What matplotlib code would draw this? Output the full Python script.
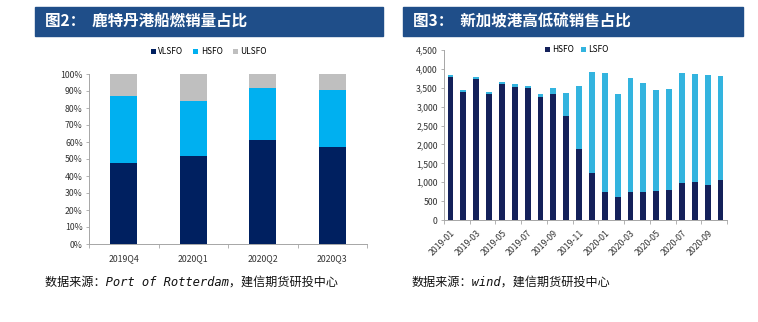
import numpy as np
import matplotlib.pyplot as plt
from matplotlib.patches import Rectangle

plt.rcParams['font.family'] = ['Noto Sans CJK SC', 'DejaVu Sans']

# left chart: Rotterdam bunker sales share (%)
quarters = ['2019Q4', '2020Q1', '2020Q2', '2020Q3']
vlsfo = [47.8, 51.5, 61.0, 57.3]
hsfo_q = [39.5, 32.6, 31.0, 33.5]
ulsfo = [12.7, 15.9, 8.0, 9.2]

# right chart: Singapore sales (thousand tonnes)
months = ['2019-01', '2019-02', '2019-03', '2019-04', '2019-05', '2019-06',
          '2019-07', '2019-08', '2019-09', '2019-10', '2019-11', '2019-12',
          '2020-01', '2020-02', '2020-03', '2020-04', '2020-05', '2020-06',
          '2020-07', '2020-08', '2020-09', '2020-10']
hsfo_m = [3790, 3397, 3724, 3326, 3591, 3529, 3503, 3247, 3326, 2762, 1888,
          1253, 750, 600, 732, 750, 776, 794, 970, 1015, 918, 1059]
lsfo_m = [48, 44, 52, 54, 53, 80, 53, 88, 177, 591, 1659, 2656, 3132, 2735,
          3018, 2885, 2665, 2665, 2912, 2858, 2920, 2753]

W, H = 758, 322
fig = plt.figure(figsize=(W / 100, H / 100), dpi=100)
fig.patch.set_facecolor('white')

title_bg = '#1F4E89'
src_font = ['DejaVu Sans Mono', 'Noto Sans CJK SC']
tick_fs = 6.3


def px_axes(x0, y0, x1, y1):
    return fig.add_axes([x0 / W, 1 - y1 / H, (x1 - x0) / W, (y1 - y0) / H])


def title_bar(x0, x1, text):
    fig.patches.append(Rectangle((x0 / W, 1 - 36 / H), (x1 - x0) / W, 29 / H,
                                 transform=fig.transFigure, color=title_bg, zorder=0))
    fig.text((x0 + 10) / W, 1 - 21.5 / H, text, color='white', fontsize=11.2,
             fontweight='bold', va='center', ha='left')


def style_axes(ax):
    for s in ['top', 'right']:
        ax.spines[s].set_visible(False)
    for s in ['left', 'bottom']:
        ax.spines[s].set_color('#A6A6A6')
        ax.spines[s].set_linewidth(0.7)
    ax.tick_params(axis='y', labelsize=tick_fs, length=2.5, width=0.6,
                   color='#A6A6A6', pad=2, labelcolor='#333333')


# ---- left chart ----
title_bar(35, 383, '图2：  鹿特丹港船燃销量占比')
ax1 = px_axes(89, 74, 367, 244)
x = np.arange(len(quarters))
b1 = ax1.bar(x, vlsfo, width=0.39, color='#002060', label='VLSFO')
b2 = ax1.bar(x, hsfo_q, width=0.39, bottom=vlsfo, color='#00B0F0', label='HSFO')
b3 = ax1.bar(x, ulsfo, width=0.39, bottom=np.add(vlsfo, hsfo_q), color='#BFBFBF', label='ULSFO')
ax1.set_xlim(-0.5, len(quarters) - 0.5)
ax1.set_ylim(0, 100)
ax1.set_yticks(np.arange(0, 101, 10))
ax1.set_yticklabels([f'{v}%' for v in range(0, 101, 10)])
style_axes(ax1)
ax1.set_xticks(x)
ax1.set_xticklabels(quarters)
ax1.set_xticks(np.arange(-0.5, len(quarters), 1), minor=True)
ax1.tick_params(axis='x', which='major', length=0, labelsize=tick_fs, pad=7, labelcolor='#333333')
ax1.tick_params(axis='x', which='minor', length=3, width=0.6, color='#A6A6A6')
ax1.legend(handles=[b1, b2, b3], loc='center', bbox_to_anchor=(0.43, 1.13), ncol=3,
           frameon=False, fontsize=6, handlelength=0.6, handleheight=0.6,
           handletextpad=0.3, columnspacing=1.2)
fig.text(45 / W, 1 - 282 / H, '数据来源：Port of Rotterdam，建信期货研投中心',
         family=src_font, style='italic', fontsize=8.7, va='center', ha='left', color='#111111')

# ---- right chart ----
title_bar(403, 743, '图3：  新加坡港高低硫销售占比')
ax2 = px_axes(444, 50, 727, 220)
xm = np.arange(len(months))
c1 = ax2.bar(xm, hsfo_m, width=0.45, color='#14215A', label='HSFO')
c2 = ax2.bar(xm, lsfo_m, width=0.45, bottom=hsfo_m, color='#33B4DF', label='LSFO')
ax2.set_xlim(-0.5, len(months) - 0.5)
ax2.set_ylim(0, 4500)
ax2.set_yticks(np.arange(0, 4501, 500))
ax2.set_yticklabels([f'{v:,}' for v in range(0, 4501, 500)])
style_axes(ax2)
ax2.set_xticks(xm[::2])
ax2.set_xticklabels(months[::2], rotation=45, ha='right', rotation_mode='anchor')
ax2.set_xticks(np.arange(-0.5, len(months), 2), minor=True)
ax2.tick_params(axis='x', which='major', length=0, labelsize=tick_fs, pad=6, labelcolor='#333333')
ax2.tick_params(axis='x', which='minor', length=3, width=0.6, color='#A6A6A6')
ax2.legend(handles=[c1, c2], loc='center', bbox_to_anchor=(0.47, 1.0), ncol=2,
           frameon=False, fontsize=6, handlelength=0.6, handleheight=0.6,
           handletextpad=0.3, columnspacing=0.8)
fig.text(412 / W, 1 - 282 / H, '数据来源：wind，建信期货研投中心',
         family=src_font, style='italic', fontsize=8.7, va='center', ha='left', color='#111111')

fig.savefig('out.png', dpi=100, facecolor='white')
